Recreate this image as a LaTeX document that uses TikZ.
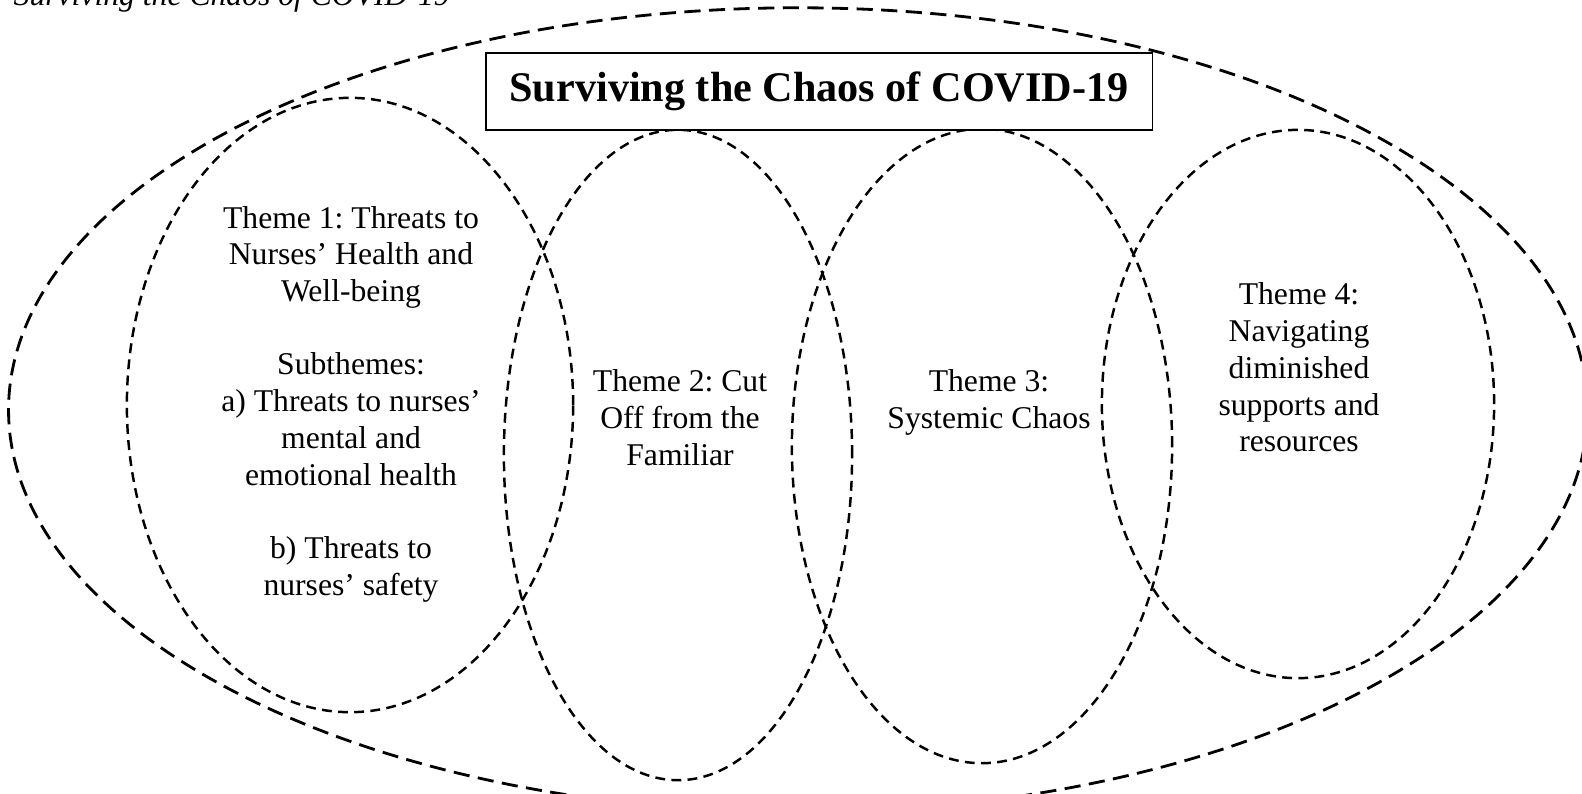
\documentclass[tikz,border=0pt]{standalone}
\usepackage{fontspec}
\setmainfont{Liberation Serif}
\usetikzlibrary{shapes.geometric}
\frenchspacing

\begin{document}
\begin{tikzpicture}[
    x=0.01cm, y=-0.01cm,
    every node/.style={font=\fontsize{9pt}{10.44pt}\selectfont, align=center, inner sep=0pt},
    outerring/.style={draw, ellipse, line width=0.8pt, dash pattern=on 4.6pt off 2.4pt},
    themering/.style={draw, ellipse, line width=0.7pt, dash pattern=on 2.8pt off 1.8pt}
]
\useasboundingbox (0,0) rectangle (1582,793);

% Caption (cut off at the top)
\node (caption) [anchor=base west, font=\fontsize{9pt}{10.44pt}\selectfont\itshape] at (13,5) {Surviving the Chaos of COVID-19};

% Rings
\node (whole) [outerring, minimum width=15.78cm, minimum height=8.04cm] at (798,410) {};
\node (ring1) [themering, minimum width=4.46cm, minimum height=6.14cm] at (350,405) {};
\node (ring2) [themering, minimum width=3.48cm, minimum height=6.50cm] at (678,455) {};
\node (ring3) [themering, minimum width=3.80cm, minimum height=6.34cm] at (982,446) {};
\node (ring4) [themering, minimum width=3.92cm, minimum height=5.48cm] at (1298,404) {};

% Title
\node (title) [draw, fill=white, line width=0.4pt, minimum width=6.66cm, minimum height=0.77cm,
    font=\fontsize{12pt}{14pt}\selectfont\bfseries] at (819,91.5) {Surviving the Chaos of COVID-19};

% Themes
\node (theme1) at (351,404) {Theme 1: Threats to\\ Nurses’ Health and\\ Well-being\\[10.44pt] Subthemes:\\ a) Threats to nurses’\\ mental and\\ emotional health\\[10.44pt] b) Threats to\\ nurses’ safety};
\node (theme2) at (680,417.5) {Theme 2: Cut\\ Off from the\\ Familiar};
\node (theme3) at (989,402.5) {Theme 3:\\ Systemic Chaos};
\node (theme4) at (1299,367.5) {Theme 4:\\ Navigating\\ diminished\\ supports and\\ resources};

\end{tikzpicture}
\end{document}
